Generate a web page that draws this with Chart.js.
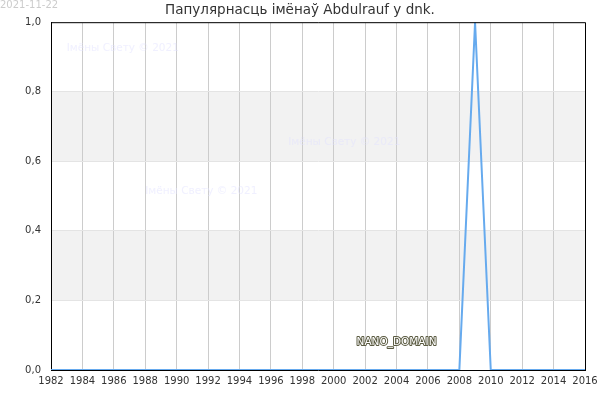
<!DOCTYPE html>
<html lang="be">
<head>
    <meta charset="UTF-8">
    <title>Abdulrauf dnk</title>
    <script src="https://cdn.jsdelivr.net/npm/chart.js"></script>
    <style>
        html, body { margin: 0; padding: 0; background: #fff; }
        .chart-container { width: 600px; height: 400px; position: relative; }
    </style>
</head>
<body>
    <div class="chart-container">
        <canvas id="nameChart"></canvas>
    </div>

    <script>
        const years = [1982, 1983, 1984, 1985, 1986, 1987, 1988, 1989, 1990, 1991, 1992, 1993,
            1994, 1995, 1996, 1997, 1998, 1999, 2000, 2001, 2002, 2003, 2004, 2005, 2006, 2007,
            2008, 2009, 2010, 2011, 2012, 2013, 2014, 2015, 2016];
        const popularity = [0, 0, 0, 0, 0, 0, 0, 0, 0, 0, 0, 0,
            0, 0, 0, 0, 0, 0, 0, 0, 0, 0, 0, 0, 0, 0,
            0, 1, 0, 0, 0, 0, 0, 0, 0];
        const yTicks = [0, 0.2, 0.4, 0.6, 0.8, 1.0];
        const bands = [[0.2, 0.4], [0.6, 0.8]];
        const titleText = 'Папулярнасць імёнаў Abdulrauf у dnk.';
        const dateText = '2021-11-22';
        const watermarks = [
            { text: 'Імёны Свету © 2021', x: 1983, y: 0.925 },
            { text: 'Імёны Свету © 2021', x: 1997.1, y: 0.655 },
            { text: 'Імёны Свету © 2021', x: 1988, y: 0.515 }
        ];

        const font = 'DejaVu Sans';

        // stripes, watermarks, frame and stamp
        const decor = {
            id: 'decor',
            beforeDatasetsDraw(chart) {
                const { ctx, scales: { x, y } } = chart;
                ctx.save();
                ctx.font = '10.5px "' + font + '"';
                ctx.fillStyle = 'rgba(225,225,255,0.5)';
                ctx.textBaseline = 'middle';
                watermarks.forEach(w => ctx.fillText(w.text, x.getPixelForValue(w.x), y.getPixelForValue(w.y)));
                const sx = x.getPixelForValue(2004), sy = y.getPixelForValue(0.08);
                ctx.font = '10.5px "' + font + '"';
                ctx.textAlign = 'center';
                ctx.lineJoin = 'round';
                ctx.lineWidth = 2;
                ctx.strokeStyle = '#5a5a40';
                ctx.strokeText('NANO_DOMAIN', sx, sy);
                ctx.fillStyle = '#ffffff';
                ctx.fillText('NANO_DOMAIN', sx, sy);
                ctx.restore();
            },
            beforeDraw(chart) {
                const { ctx, chartArea: a, scales: { y } } = chart;
                ctx.save();
                ctx.fillStyle = '#f2f2f2';
                bands.forEach(b => {
                    const t = y.getPixelForValue(b[1]), btm = y.getPixelForValue(b[0]);
                    ctx.fillRect(a.left, t, a.right - a.left, btm - t);
                });
                ctx.font = '10px "' + font + '"';
                ctx.fillStyle = '#cccccc';
                ctx.textBaseline = 'top';
                ctx.fillText(dateText, 0, 0);
                ctx.restore();
            },
            afterDraw(chart) {
                const { ctx, chartArea: a } = chart;
                ctx.save();
                ctx.strokeStyle = '#000';
                ctx.lineWidth = 1;
                ctx.beginPath();
                ctx.moveTo(a.left, a.top + 0.5);
                ctx.lineTo(a.right + 0.5, a.top + 0.5);
                ctx.lineTo(a.right + 0.5, a.bottom);
                ctx.stroke();
                ctx.restore();
            }
        };

        const ctx = document.getElementById('nameChart').getContext('2d');
        new Chart(ctx, {
            type: 'line',
            data: {
                labels: years,
                datasets: [{
                    label: 'Abdulrauf',
                    data: years.map((yr, i) => ({ x: yr, y: popularity[i] })),
                    borderColor: '#66aaee',
                    borderWidth: 2,
                    pointRadius: 0,
                    tension: 0,
                    fill: false
                }]
            },
            options: {
                responsive: true,
                maintainAspectRatio: false,
                animation: false,
                layout: { padding: 0 },
                plugins: {
                    legend: { display: false },
                    tooltip: { enabled: false },
                    title: {
                        display: true,
                        text: titleText,
                        color: '#333',
                        font: { family: font, size: 13.5, weight: 'normal' },
                        padding: { top: 2, bottom: 4 }
                    }
                },
                scales: {
                    x: {
                        type: 'linear',
                        min: 1982,
                        max: 2016,
                        ticks: {
                            stepSize: 2,
                            autoSkip: false,
                            maxRotation: 0,
                            color: '#333',
                            font: { family: font, size: 10 },
                            padding: 5,
                            callback: v => String(v)
                        },
                        grid: { color: '#cccccc', drawTicks: false },
                        border: { color: '#000', width: 1 },
                        afterFit: s => { s.height = 30; s.paddingLeft = 0; s.paddingRight = 15; }
                    },
                    y: {
                        min: 0,
                        max: 1,
                        afterBuildTicks: s => { s.ticks = yTicks.map(v => ({ value: v })); },
                        ticks: {
                            color: '#333',
                            font: { family: font, size: 10 },
                            padding: 10,
                            callback: v => v.toFixed(1).replace('.', ',')
                        },
                        grid: { color: '#e4e4e4', drawTicks: false },
                        border: { color: '#000', width: 1 },
                        afterFit: s => { s.width = 51; s.paddingTop = 0; s.paddingBottom = 0; }
                    }
                }
            },
            plugins: [decor]
        });
    </script>
</body>
</html>
